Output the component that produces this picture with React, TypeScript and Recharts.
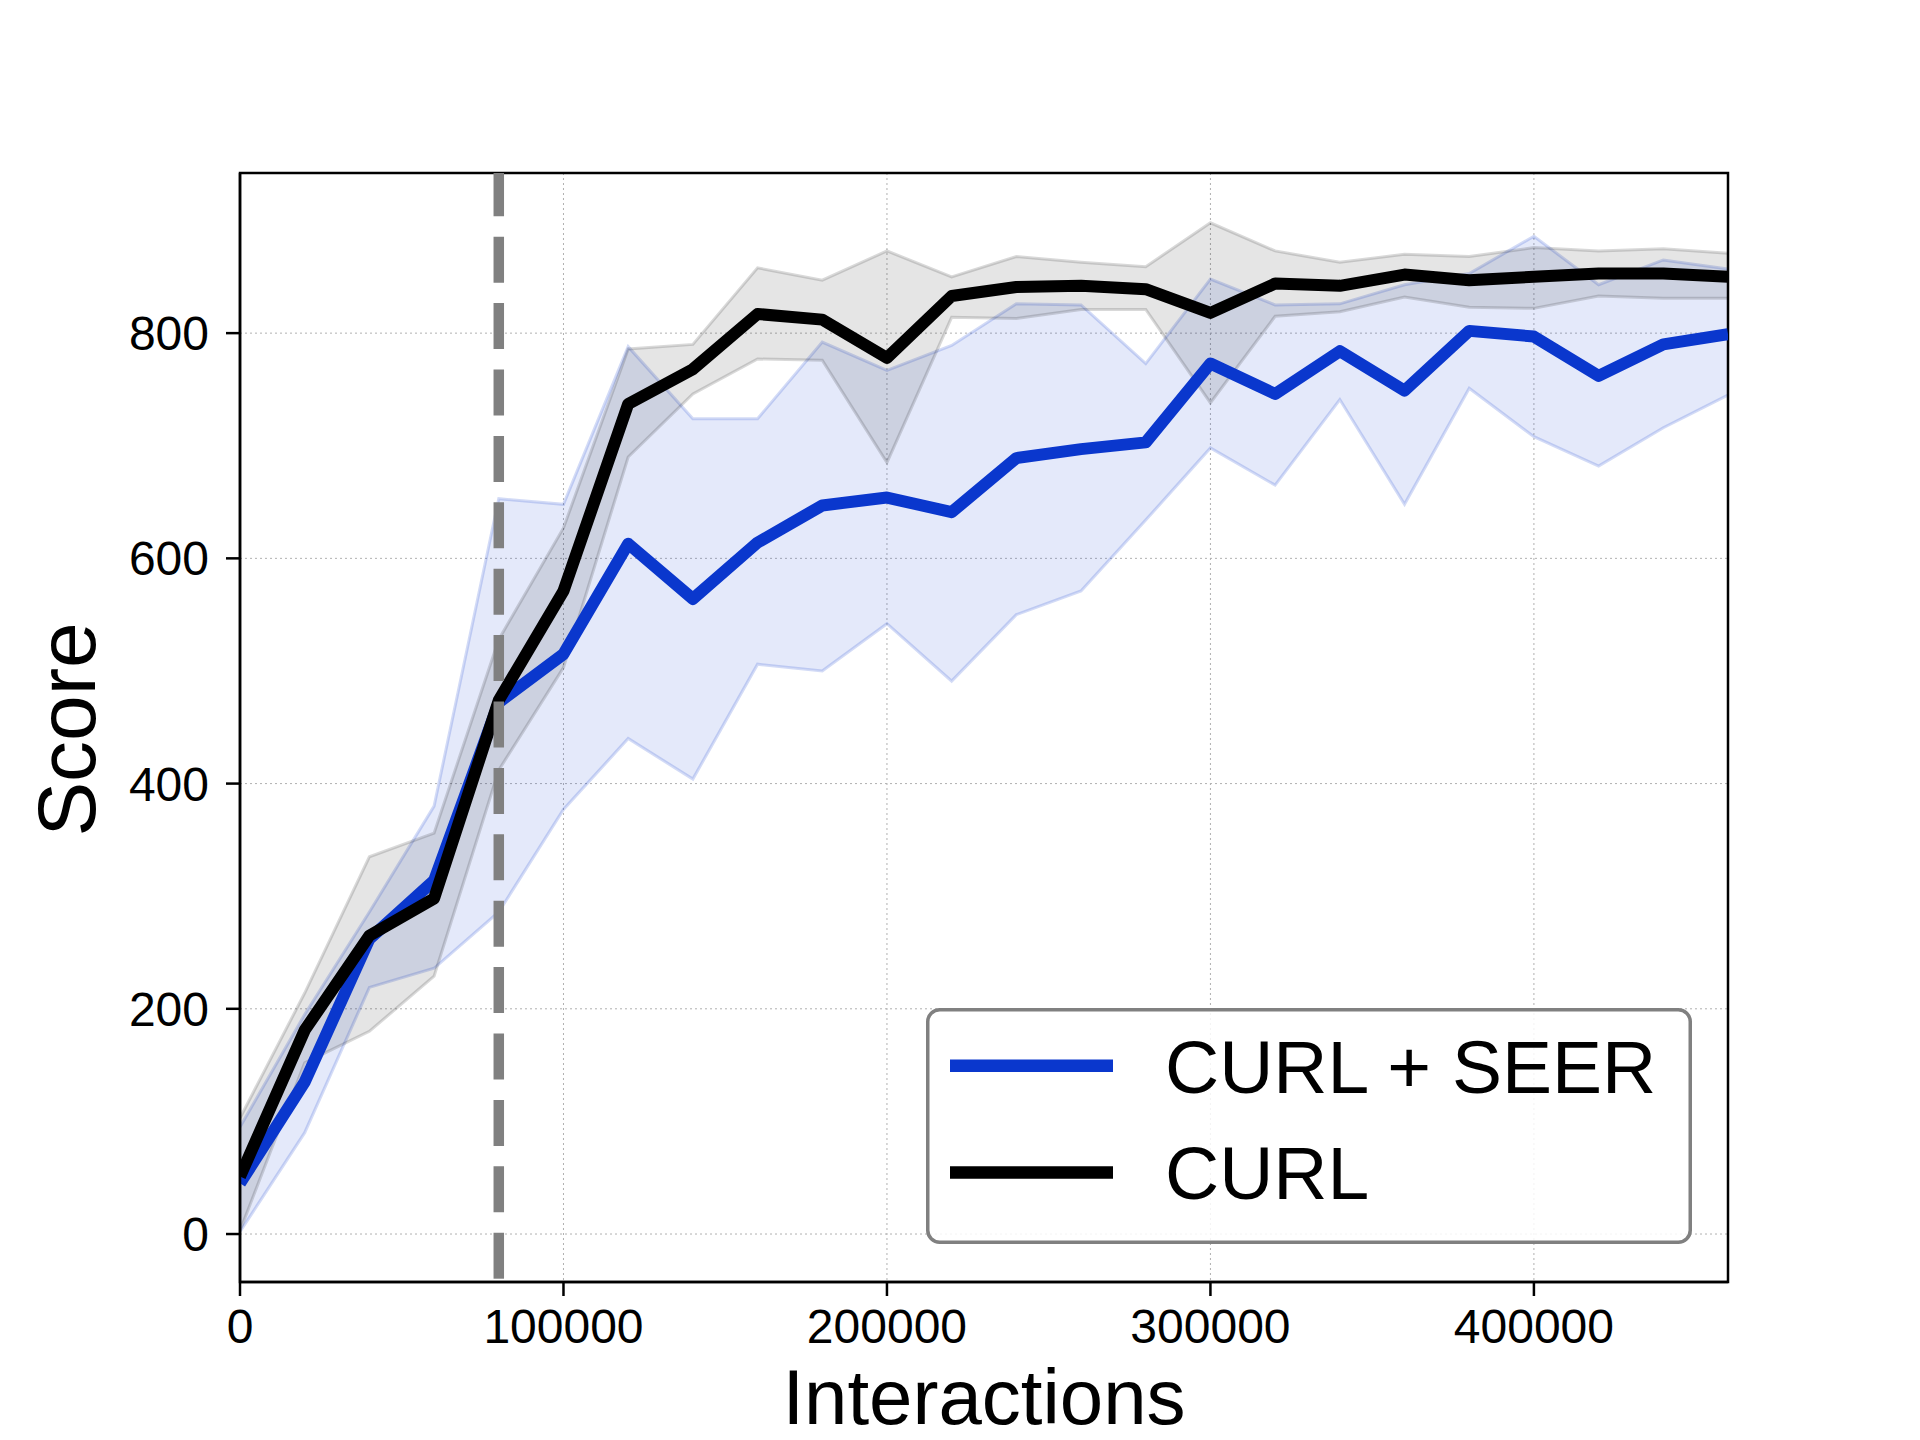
import {
  ComposedChart, Area, Line, XAxis, YAxis, CartesianGrid,
  ReferenceLine, ReferenceArea, Legend, Label,
} from 'recharts'

const FONT = "'Liberation Sans', Arial, Helvetica, sans-serif"
const BLUE = '#0a37cd'

// interactions, every 20k steps
const steps = [
  0, 20000, 40000, 60000, 80000, 100000, 120000, 140000, 160000, 180000, 200000, 220000,
  240000, 260000, 280000, 300000, 320000, 340000, 360000, 380000, 400000, 420000, 440000, 460000,
]

// CURL + SEER
const seerMean = [45, 135, 262, 314, 472, 515, 613, 564, 614, 647, 654, 641, 689, 697, 703, 773, 746, 784, 749, 802, 797, 762, 790, 799]
const seerLow = [2, 90, 219, 236, 286, 377, 440, 404, 506, 500, 542, 491, 550, 571, 634, 698, 665, 741, 648, 751, 708, 682, 716, 745]
const seerHigh = [95, 195, 286, 380, 653, 648, 788, 724, 724, 792, 767, 789, 826, 825, 773, 848, 825, 826, 843, 853, 886, 843, 865, 857]

// CURL
const curlMean = [51, 181, 265, 298, 474, 571, 737, 768, 817, 812, 778, 833, 841, 842, 839, 818, 844, 842, 852, 847, 850, 853, 853, 850]
const curlLow = [3, 152, 180, 229, 412, 503, 690, 746, 777, 776, 685, 814, 813, 821, 821, 738, 815, 819, 832, 823, 822, 833, 831, 831]
const curlHigh = [103, 214, 335, 356, 528, 627, 786, 790, 858, 847, 873, 850, 868, 863, 859, 898, 873, 863, 870, 868, 876, 873, 875, 871]

const xTicks = [0, 100000, 200000, 300000, 400000]
const yTicks = [0, 200, 400, 600, 800]
const xDomain = [0, 460000]
const yDomain = [-42.6, 942.2]
const pretrainEnd = 80000

const legendItems = [
  { name: 'CURL + SEER', color: BLUE },
  { name: 'CURL', color: '#000000' },
]

const data = steps.map((x, i) => ({
  x,
  seer: seerMean[i],
  curl: curlMean[i],
  seerBand: [seerLow[i], seerHigh[i]],
  curlBand: [curlLow[i], curlHigh[i]],
}))

function LegendBox() {
  return (
    <svg width={766} height={236} style={{ display: 'block' }}>
      <rect x={1.75} y={1.75} width={762.5} height={232.5} rx={12} ry={12}
        fill="#ffffff" fillOpacity={0.85} stroke="#808080" strokeWidth={3.5} />
      {legendItems.map((it, i) => (
        <g key={it.name}>
          <line x1={24} x2={187} y1={57.7 + i * 106.7} y2={57.7 + i * 106.7}
            stroke={it.color} strokeWidth={12.5} />
          <text x={239} y={85 + i * 106} fontSize={75} fontFamily={FONT} fill="#000">{it.name}</text>
        </g>
      ))}
    </svg>
  )
}

export default function App() {
  const tickStyle = { fontSize: 48, fontFamily: FONT, fill: '#000' }
  return (
    <div style={{ width: 1904, height: 1432, background: '#fff' }}>
      <ComposedChart width={1904} height={1432} data={data}
        margin={{ top: 165, right: 184, left: 0, bottom: 0 }}>
        <CartesianGrid stroke="#b0b0b0" strokeWidth={1} strokeDasharray="2 3" />
        <XAxis
          dataKey="x" type="number" domain={xDomain} ticks={xTicks} allowDataOverflow
          height={158} tickSize={14} tickMargin={13} tick={tickStyle}
          axisLine={{ stroke: '#000', strokeWidth: 2.5 }} tickLine={{ stroke: '#000', strokeWidth: 2.5 }}
        >
          <Label content={({ viewBox }: any) => (
            <text x={viewBox.x + viewBox.width / 2} y={viewBox.y + 142} textAnchor="middle"
              fontSize={78} fontFamily={FONT} fill="#000">Interactions</text>
          )} />
        </XAxis>
        <YAxis
          type="number" domain={yDomain} ticks={yTicks} allowDataOverflow
          width={232} tickSize={14} tickMargin={17} tick={tickStyle}
          axisLine={{ stroke: '#000', strokeWidth: 2.5 }} tickLine={{ stroke: '#000', strokeWidth: 2.5 }}
        >
          <Label content={({ viewBox }: any) => {
            const cx = 87
            const cy = viewBox.y + viewBox.height / 2 + 2
            return (
              <text x={cx} y={cy} textAnchor="middle" transform={`rotate(-90, ${cx}, ${cy})`}
                fontSize={82} fontFamily={FONT} fill="#000">Score</text>
            )
          }} />
        </YAxis>
        <Area type="linear" dataKey="seerBand" fill={BLUE} fillOpacity={0.11}
          stroke={BLUE} strokeOpacity={0.18} strokeWidth={3}
          dot={false} activeDot={false} legendType="none" isAnimationActive={false} />
        <Area type="linear" dataKey="curlBand" fill="#000" fillOpacity={0.1}
          stroke="#000" strokeOpacity={0.15} strokeWidth={3}
          dot={false} activeDot={false} legendType="none" isAnimationActive={false} />
        <Line type="linear" dataKey="seer" stroke={BLUE} strokeWidth={12}
          strokeLinejoin="round" dot={false} activeDot={false} isAnimationActive={false} />
        <Line type="linear" dataKey="curl" stroke="#000" strokeWidth={12}
          strokeLinejoin="round" dot={false} activeDot={false} isAnimationActive={false} />
        <ReferenceLine x={pretrainEnd} stroke="#808080" strokeWidth={10.5}
          strokeDasharray="46 20.4" strokeDashoffset={63.1} />
        <ReferenceArea x1={xDomain[0]} x2={xDomain[1]} y1={yDomain[0]} y2={yDomain[1]}
          fill="none" fillOpacity={0} stroke="#000" strokeWidth={2.5} />
        <Legend
          layout="horizontal" align="center" verticalAlign="middle"
          wrapperStyle={{ left: 917.7, top: 1000.3, width: 766, height: 236 }}
          content={() => <LegendBox />}
        />
      </ComposedChart>
    </div>
  )
}
